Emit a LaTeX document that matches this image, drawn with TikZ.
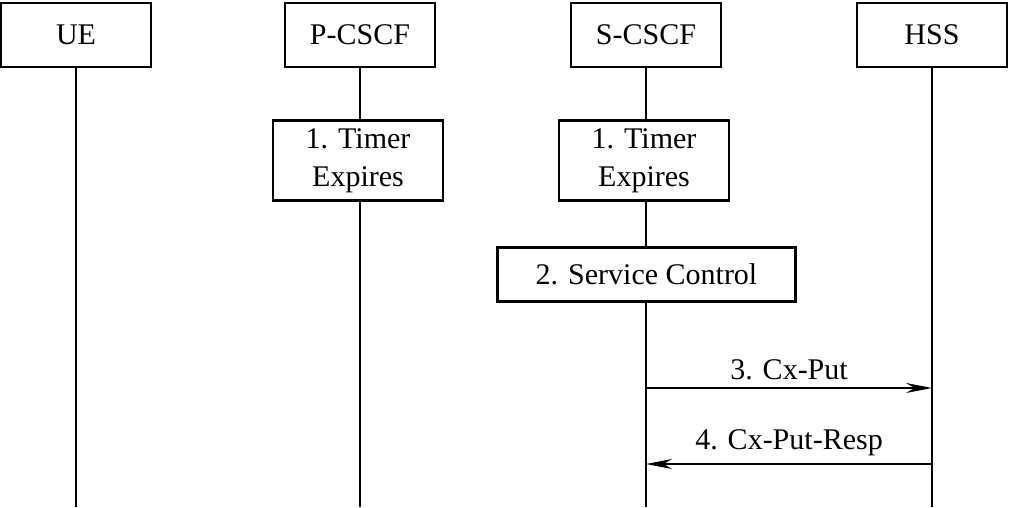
\documentclass[tikz,border=0pt]{standalone}
\usepackage{fontspec}
\setmainfont{Liberation Serif}
\usetikzlibrary{arrows.meta}
\begin{document}
\begin{tikzpicture}[x=1pt,y=-1pt,
  ent/.style={draw,line width=2.6pt,minimum width=150pt,minimum height=64pt,inner sep=0pt,font=\fontsize{30}{34}\selectfont},
  act/.style={draw,line width=2.6pt,inner sep=0pt,font=\fontsize{30}{38}\selectfont,align=center},
  life/.style={line width=1.8pt},
  msg/.style={line width=1.8pt,-{Stealth[length=26pt,width=10pt]}},
  lbl/.style={font=\fontsize{30}{34}\selectfont}]
\useasboundingbox (0,0) rectangle (1011,507);
\node[ent] (ue) at (76,35) {UE};
\node[ent] (pc) at (360,35) {P-CSCF};
\node[ent] (sc) at (646,35) {S-CSCF};
\node[ent] (hss) at (932,35) {HSS};
\node[act,minimum width=170pt,minimum height=80pt] (t1) at (358,160.5) {1. Timer\\Expires};
\node[act,minimum width=170pt,minimum height=80pt] (t2) at (644,160.5) {1. Timer\\Expires};
\node[act,minimum width=298pt,minimum height=54pt] (sv) at (646.5,274.5) {2. Service Control};
\coordinate (ueE) at (76,507);
\coordinate (pcE) at (360,507);
\coordinate (scE) at (646,507);
\coordinate (hssE) at (932,507);
\draw[life] (ue) -- (ueE);
\draw[life] (pc) -- (pc|-t1.north);
\draw[life] (pc|-t1.south) -- (pcE);
\draw[life] (sc) -- (sc|-t2.north);
\draw[life] (sc|-t2.south) -- (sc|-sv.north);
\draw[life] (sc|-sv.south) -- (scE);
\draw[life] (hss) -- (hssE);
\coordinate (a1) at (646,388);
\coordinate (b1) at (932,388);
\coordinate (a2) at (932,464);
\coordinate (b2) at (646,464);
\draw[msg] (a1) -- node[lbl,above=4pt]{3. Cx-Put} (b1);
\draw[msg] (a2) -- node[lbl,above=4pt]{4. Cx-Put-Resp} (b2);
\end{tikzpicture}
\end{document}
